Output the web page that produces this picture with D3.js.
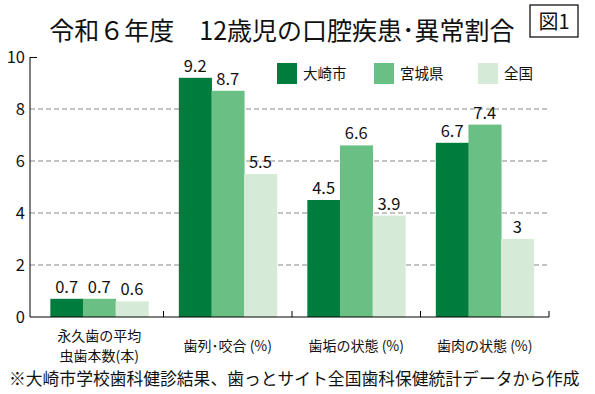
<!DOCTYPE html>
<html>
<head>
<meta charset="utf-8">
<script src="https://cdn.jsdelivr.net/npm/d3@7"></script>
<style>
  body { margin: 0; background: #fff; }
  svg { font-family: "Noto Sans CJK JP", "Noto Sans", sans-serif; }
</style>
</head>
<body>
<div id="chart"></div>
<script>
// data
var categories = [["永久歯の平均", "虫歯本数(本)"], ["歯列･咬合 (%)"], ["歯垢の状態 (%)"], ["歯肉の状態 (%)"]];
var seriesNames = ["大崎市", "宮城県", "全国"];
var osaki = [0.7, 9.2, 4.5, 6.7];
var miyagi = [0.7, 8.7, 6.6, 7.4];
var zenkoku = [0.6, 5.5, 3.9, 3];
var yTicks = [0, 2, 4, 6, 8, 10];

var colors = ["#007c3c", "#6abf84", "#d5ebd7"];
var series = [osaki, miyagi, zenkoku];

var width = 595, height = 394;
var pLeft = 30, pRight = 549, pTop = 57, pBottom = 317;

var svg = d3.select("#chart").append("svg")
  .attr("width", width)
  .attr("height", height);

var y = d3.scaleLinear().domain([0, 10]).range([pBottom, pTop]);
var x0 = d3.scaleBand().domain(d3.range(categories.length)).range([35, pRight]).paddingInner(0).paddingOuter(0);
var x1 = d3.scaleBand().domain(d3.range(seriesNames.length)).range([0, x0.bandwidth()]).paddingOuter(0.47).paddingInner(0);

// title
svg.append("text")
  .attr("x", 282).attr("y", 40)
  .attr("text-anchor", "middle")
  .attr("font-size", 25)
  .attr("fill", "#111")
  .text("令和６年度　12歳児の口腔疾患･異常割合");

svg.append("rect")
  .attr("x", 530).attr("y", 5).attr("width", 48).attr("height", 32)
  .attr("fill", "none").attr("stroke", "#000").attr("stroke-width", 1.2);
svg.append("text")
  .attr("x", 554).attr("y", 29)
  .attr("text-anchor", "middle")
  .attr("font-size", 20)
  .attr("fill", "#111")
  .text("図1");

// gridlines
svg.append("g").selectAll("line")
  .data(yTicks.filter(function(d) { return d > 0 && d < 10; }))
  .enter().append("line")
  .attr("x1", pLeft).attr("x2", pRight)
  .attr("y1", function(d) { return y(d); })
  .attr("y2", function(d) { return y(d); })
  .attr("stroke", "#888")
  .attr("stroke-dasharray", "5,3");

// bars
var groups = svg.append("g").selectAll("g")
  .data(categories)
  .enter().append("g")
  .attr("transform", function(d, i) { return "translate(" + x0(i) + ",0)"; });

groups.each(function(c, ci) {
  var g = d3.select(this);
  series.forEach(function(s, si) {
    g.append("rect")
      .attr("x", x1(si))
      .attr("y", y(s[ci]))
      .attr("width", x1.bandwidth() + 0.5)
      .attr("height", pBottom - y(s[ci]))
      .attr("fill", colors[si]);
    g.append("text")
      .attr("x", x1(si) + x1.bandwidth() / 2)
      .attr("y", y(s[ci]) - 6)
      .attr("text-anchor", "middle")
      .attr("font-size", 16.5)
      .attr("fill", "#111")
      .text(s[ci]);
  });
});

// y axis
var yAxis = d3.axisLeft(y).tickValues(yTicks).tickSize(-7).tickPadding(5);
var ya = svg.append("g").attr("transform", "translate(" + pLeft + ",0)").call(yAxis);
ya.select(".domain").attr("stroke", "#000").attr("d", "M0," + pTop + "V" + pBottom);
ya.selectAll(".tick line").attr("stroke", function(d) { return d === 10 ? "#000" : "none"; });
ya.selectAll(".tick text").attr("font-size", 16.5).attr("fill", "#111").attr("font-family", "\"Noto Sans CJK JP\", sans-serif");

// x axis
var xa = svg.append("g");
xa.append("line")
  .attr("x1", pLeft).attr("x2", pRight)
  .attr("y1", pBottom).attr("y2", pBottom)
  .attr("stroke", "#000");
xa.selectAll("line.t")
  .data(d3.range(1, categories.length + 1))
  .enter().append("line")
  .attr("class", "t")
  .attr("x1", function(i) { return x0.range()[0] + i * x0.bandwidth(); })
  .attr("x2", function(i) { return x0.range()[0] + i * x0.bandwidth(); })
  .attr("y1", pBottom).attr("y2", pBottom - 6)
  .attr("stroke", "#000");

var labels = xa.selectAll("text")
  .data(categories)
  .enter().append("text")
  .attr("text-anchor", "middle")
  .attr("font-size", 14)
  .attr("fill", "#111")
  .attr("x", function(d, i) { return x0(i) + x0.bandwidth() / 2; })
  .attr("y", function(d) { return d.length > 1 ? 341 : 351; });
labels.selectAll("tspan")
  .data(function(d) { return d; })
  .enter().append("tspan")
  .attr("x", function() { return d3.select(this.parentNode).attr("x"); })
  .attr("dy", function(d, i) { return i === 0 ? 0 : 20; })
  .text(function(d) { return d; });

// legend
var legendX = [277, 374, 478];
var legend = svg.append("g").selectAll("g")
  .data(seriesNames)
  .enter().append("g")
  .attr("transform", function(d, i) { return "translate(" + legendX[i] + ",63)"; });
legend.append("rect")
  .attr("width", 20).attr("height", 21)
  .attr("fill", function(d, i) { return colors[i]; });
legend.append("text")
  .attr("x", 26).attr("y", 16)
  .attr("font-size", 14.5)
  .attr("fill", "#111")
  .text(function(d) { return d; });

// footer
svg.append("text")
  .attr("x", 9).attr("y", 385)
  .attr("font-size", 16.8)
  .attr("fill", "#111")
  .text("※大崎市学校歯科健診結果、歯っとサイト全国歯科保健統計データから作成");
</script>
</body>
</html>
